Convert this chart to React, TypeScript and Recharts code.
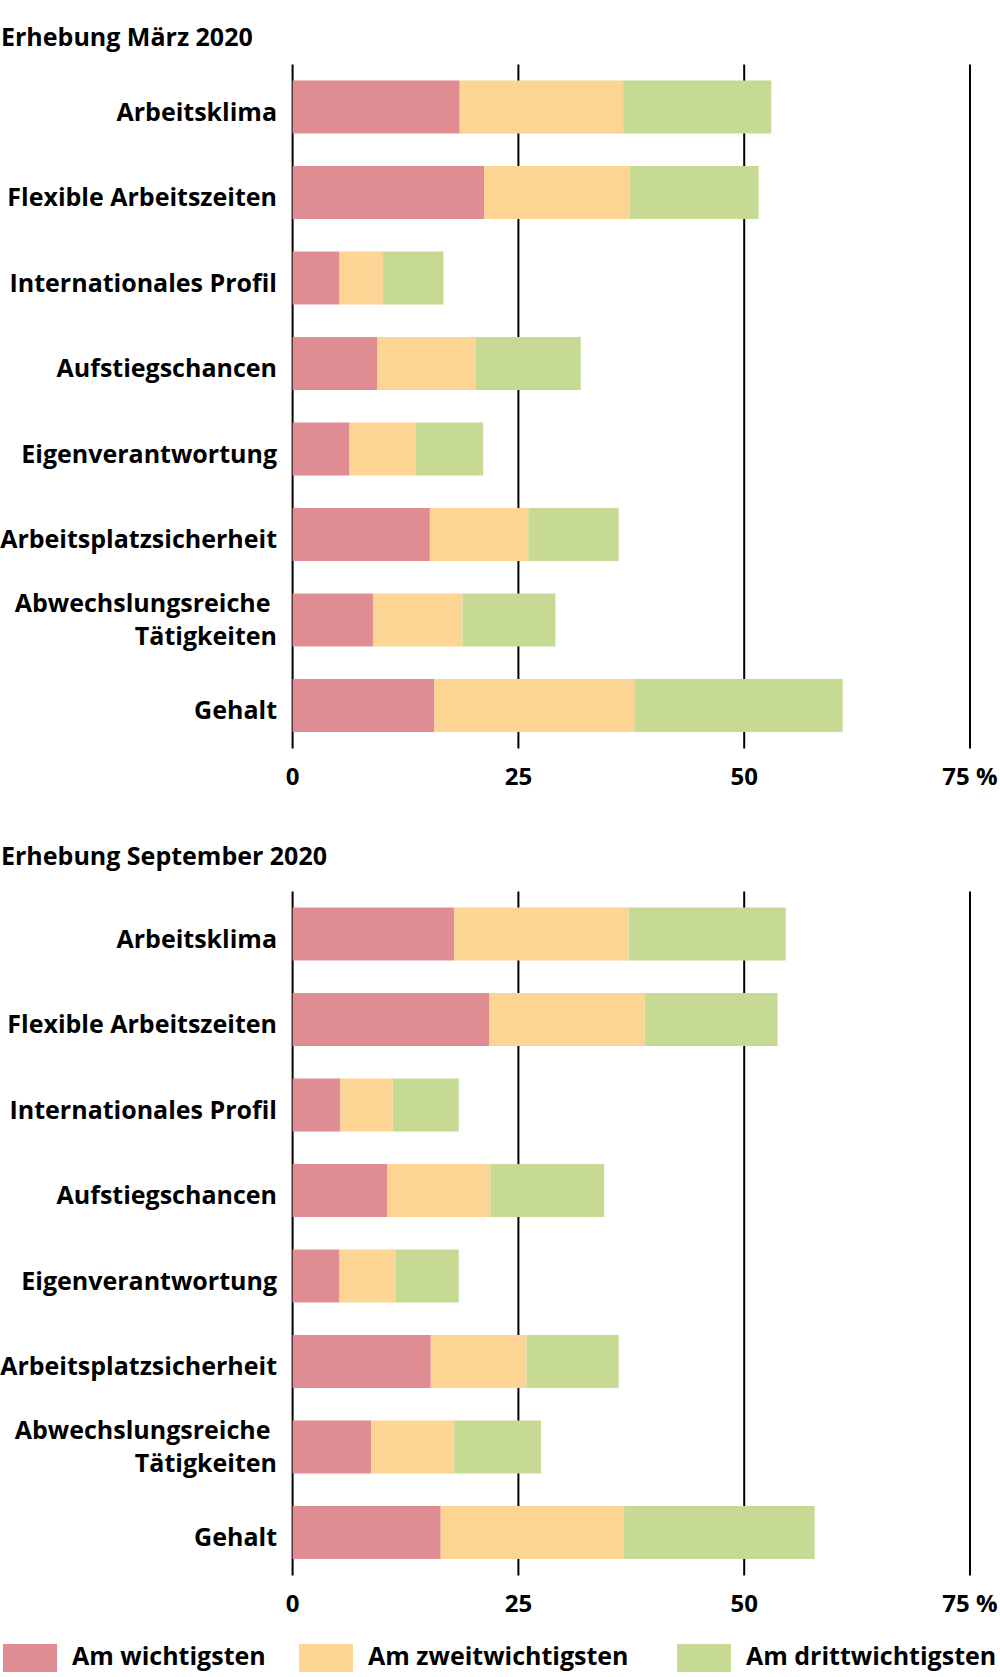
import React from 'react';
import { BarChart, Bar, XAxis, YAxis, CartesianGrid } from 'recharts';

const categories = [
  'Arbeitsklima',
  'Flexible Arbeitszeiten',
  'Internationales Profil',
  'Aufstiegschancen',
  'Eigenverantwortung',
  'Arbeitsplatzsicherheit',
  'Abwechslungsreiche \nTätigkeiten',
  'Gehalt',
];

const seriesNames = ['Am wichtigsten', 'Am zweitwichtigsten', 'Am drittwichtigsten'];
const seriesColors = ['#E08C93', '#FCD493', '#C6DA94'];

const maerzFirst = [18.5, 21.2, 5.2, 9.4, 6.3, 15.2, 8.9, 15.7];
const maerzSecond = [18.1, 16.1, 4.8, 10.9, 7.3, 10.9, 9.9, 22.2];
const maerzThird = [16.4, 14.3, 6.7, 11.6, 7.5, 10.0, 10.3, 23.0];

const septFirst = [17.9, 21.8, 5.3, 10.5, 5.2, 15.3, 8.7, 16.4];
const septSecond = [19.3, 17.2, 5.8, 11.4, 6.2, 10.6, 9.2, 20.3];
const septThird = [17.4, 14.7, 7.3, 12.6, 7.0, 10.2, 9.6, 21.1];

const xTicks = [0, 25, 50, 75];
const titles = ['Erhebung März 2020', 'Erhebung September 2020'];

const FONT = '"Open Sans", sans-serif';

const build = (a: number[], b: number[], c: number[]) =>
  categories.map((name, i) => ({ name, s1: a[i], s2: b[i], s3: c[i] }));

const YTick = (props: any) => {
  const { x, y, payload } = props;
  const lines = String(payload.value).split('\n');
  const tx = x - 7.6;
  if (lines.length === 1) {
    return (
      <text x={tx} y={y + 13.2} textAnchor="end" fontFamily={FONT} fontWeight={700} fontSize={25} fill="#000">
        {lines[0]}
      </text>
    );
  }
  return (
    <text textAnchor="end" fontFamily={FONT} fontWeight={700} fontSize={25} fill="#000" style={{ whiteSpace: 'pre' }}>
      <tspan x={tx} y={y - 8.8} style={{ whiteSpace: 'pre' }}>{lines[0]}</tspan>
      <tspan x={tx} y={y + 24.6}>{lines[1]}</tspan>
    </text>
  );
};

const XTick = (props: any) => {
  const { x, y, payload } = props;
  const label = payload.value === 75 ? '75 %' : String(payload.value);
  return (
    <text x={x} y={y + 28.4} textAnchor="middle" fontFamily={FONT} fontWeight={700} fontSize={24} fill="#000">
      {label}
    </text>
  );
};

const Panel = ({ data }: { data: any[] }) => (
  <BarChart
    width={1000}
    height={800}
    data={data}
    layout="vertical"
    margin={{ top: 64.6, right: 30, bottom: 21.4, left: 0 }}
    barCategoryGap={16}
  >
    <CartesianGrid horizontal={false} vertical={true} stroke="#000" strokeWidth={2} />
    <XAxis
      type="number"
      domain={[0, 75]}
      ticks={xTicks}
      axisLine={false}
      tickLine={false}
      height={30}
      tick={<XTick />}
      interval={0}
    />
    <YAxis
      type="category"
      dataKey="name"
      width={292.6}
      axisLine={false}
      tickLine={false}
      tick={<YTick />}
      interval={0}
    />
    <Bar dataKey="s1" stackId="a" fill={seriesColors[0]} barSize={53} isAnimationActive={false} />
    <Bar dataKey="s2" stackId="a" fill={seriesColors[1]} barSize={53} isAnimationActive={false} />
    <Bar dataKey="s3" stackId="a" fill={seriesColors[2]} barSize={53} isAnimationActive={false} />
  </BarChart>
);

const legendX = [3, 299, 677];

export default function App() {
  const d1 = build(maerzFirst, maerzSecond, maerzThird);
  const d2 = build(septFirst, septSecond, septThird);
  return (
    <div style={{ position: 'absolute', left: 0, top: 0, width: 1000, height: 1677, background: '#fff', overflow: 'hidden' }}>
      <div style={{ position: 'absolute', left: 0, top: 0 }}>
        <Panel data={d1} />
      </div>
      <div style={{ position: 'absolute', left: 0, top: 826.5 }}>
        <Panel data={d2} />
      </div>
      <svg width={1000} height={1677} style={{ position: 'absolute', left: 0, top: 0, pointerEvents: 'none' }}>
        <text x={1} y={46} fontFamily={FONT} fontWeight={700} fontSize={25} fill="#000">{titles[0]}</text>
        <text x={1} y={865} fontFamily={FONT} fontWeight={700} fontSize={25} fill="#000">{titles[1]}</text>
        {seriesNames.map((n, i) => (
          <g key={n}>
            <rect x={legendX[i]} y={1644} width={54} height={28} fill={seriesColors[i]} />
            <text x={legendX[i] + 69} y={1665} fontFamily={FONT} fontWeight={700} fontSize={25} fill="#000">{n}</text>
          </g>
        ))}
      </svg>
    </div>
  );
}
